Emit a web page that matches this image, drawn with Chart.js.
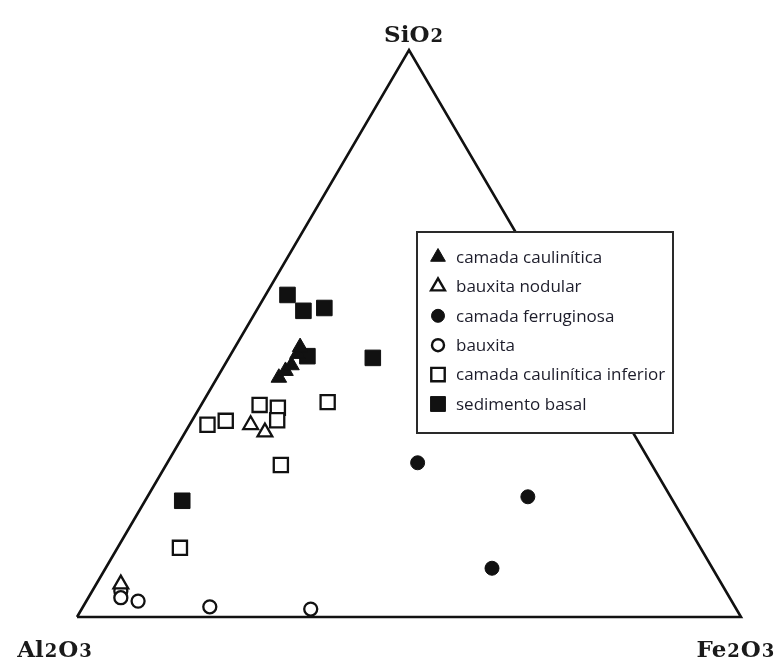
<!DOCTYPE html>
<html>
<head>
<meta charset="utf-8">
<title>Diagrama ternário SiO2 – Al2O3 – Fe2O3</title>
<script src="https://cdn.jsdelivr.net/npm/chart.js@4.4.1/dist/chart.umd.min.js"></script>
<style>
  html, body { margin: 0; padding: 0; background: #fff; }
  #wrap { width: 783px; height: 661px; position: relative; }
</style>
</head>
<body>
<div id="wrap"><canvas id="c" width="783" height="661"></canvas></div>
<script>
// Vertex labels of the ternary diagram
const vertexLabels = { top: 'SiO2', left: 'Al2O3', right: 'Fe2O3' };

// Sample compositions, wt% as [SiO2, Al2O3, Fe2O3]
const camadaCaulinitica = [
  [42.2, 48.5, 9.3],
  [43.4, 46.9, 9.7],
  [44.4, 45.5, 10.1],
  [46.4, 43.6, 10.0],
  [47.6, 42.6, 9.8]
];
const bauxitaNodular = [
  [33.9, 56.9, 9.2],
  [32.6, 55.4, 12.0],
  [5.8, 90.5, 3.7]
];
const camadaFerruginosa = [
  [27.2, 35.1, 37.7],
  [21.2, 21.5, 57.3],
  [8.6, 33.2, 58.2]
];
const bauxita = [
  [4.6, 91.1, 4.3],
  [3.4, 91.7, 4.9],
  [2.8, 89.4, 7.8],
  [1.8, 79.1, 19.1],
  [1.4, 64.1, 34.5]
];
const camadaCauliniticaInferior = [
  [33.9, 63.4, 2.7],
  [34.6, 60.3, 5.1],
  [37.4, 53.8, 8.8],
  [36.9, 51.3, 11.8],
  [34.7, 52.5, 12.8],
  [37.9, 43.3, 18.8],
  [26.8, 55.9, 17.3],
  [12.2, 78.4, 9.4]
];
const sedimentoBasal = [
  [56.8, 39.9, 3.3],
  [54.0, 38.9, 7.1],
  [54.5, 35.5, 10.0],
  [46.0, 42.3, 11.7],
  [45.7, 32.6, 21.7],
  [20.5, 73.9, 5.6]
];

// Legend order and marker styles
const seriesNames = [
  'camada caulinítica',
  'bauxita nodular',
  'camada ferruginosa',
  'bauxita',
  'camada caulinítica inferior',
  'sedimento basal'
];
const seriesData = [camadaCaulinitica, bauxitaNodular, camadaFerruginosa, bauxita, camadaCauliniticaInferior, sedimentoBasal];
const seriesStyle = [
  { shape: 'triangle', filled: true,  r: 9,   lr: 8.5 },
  { shape: 'triangle', filled: false, r: 8.5, lr: 8 },
  { shape: 'circle',   filled: true,  r: 7,   lr: 6.5 },
  { shape: 'circle',   filled: false, r: 6.5, lr: 6 },
  { shape: 'rect',     filled: false, r: 10,  lr: 9.5 },
  { shape: 'rect',     filled: true,  r: 11,  lr: 10.5 }
];

// Ternary -> cartesian: Al2O3 corner at (0,0), Fe2O3 at (1,0), SiO2 at (0.5,1)
function toXY(c) {
  const sum = c[0] + c[1] + c[2];
  const si = c[0] / sum, fe = c[2] / sum;
  return { x: fe + si / 2, y: si };
}

const INK = '#111';

const datasets = seriesData.map((arr, i) => {
  const st = seriesStyle[i];
  return {
    label: seriesNames[i],
    data: arr.map(toXY),
    showLine: false,
    pointStyle: st.shape,
    pointRadius: st.r,
    pointHoverRadius: st.r,
    backgroundColor: st.filled ? INK : '#fff',
    borderColor: INK,
    borderWidth: st.filled ? 1 : 2.3,
    clip: false,
    order: 1
  };
});

// Triangle frame
datasets.push({
  label: 'frame',
  data: [{ x: 0, y: 0 }, { x: 1, y: 0 }, { x: 0.5, y: 1 }, { x: 0, y: 0 }],
  showLine: true,
  pointRadius: 0,
  borderColor: INK,
  borderWidth: 2.6,
  borderJoinStyle: 'miter',
  fill: false,
  tension: 0,
  clip: false,
  order: 10
});

function drawMarker(ctx, shape, filled, x, y, r) {
  ctx.save();
  ctx.beginPath();
  if (shape === 'triangle') {
    const t = Math.PI * 2 / 3;
    ctx.moveTo(x, y - r);
    ctx.lineTo(x + Math.sin(t) * r, y - Math.cos(t) * r);
    ctx.lineTo(x + Math.sin(2 * t) * r, y - Math.cos(2 * t) * r);
    ctx.closePath();
  } else if (shape === 'circle') {
    ctx.arc(x, y, r, 0, Math.PI * 2);
  } else {
    const s = Math.SQRT1_2 * r;
    ctx.rect(x - s, y - s, 2 * s, 2 * s);
  }
  ctx.fillStyle = filled ? INK : '#fff';
  ctx.fill();
  ctx.lineWidth = filled ? 1 : 2.4;
  ctx.strokeStyle = INK;
  ctx.stroke();
  ctx.restore();
}

// Chemical formula with smaller, baseline-aligned digits
function drawFormula(ctx, text, cx, baseline, size) {
  const big = `bold ${size}px "DejaVu Serif", "Liberation Serif", serif`;
  const small = `bold ${Math.round(size * 0.78)}px "DejaVu Serif", "Liberation Serif", serif`;
  const parts = text.split(/(\d)/).filter(p => p.length);
  let total = 0;
  parts.forEach(p => { ctx.font = /\d/.test(p) ? small : big; total += ctx.measureText(p).width + 1; });
  let x = cx - total / 2;
  ctx.fillStyle = '#1a1a1a';
  ctx.textBaseline = 'alphabetic';
  ctx.textAlign = 'left';
  parts.forEach(p => {
    ctx.font = /\d/.test(p) ? small : big;
    ctx.fillText(p, x, baseline);
    x += ctx.measureText(p).width + 1;
  });
}

const ternaryDecor = {
  id: 'ternaryDecor',
  afterDraw(chart) {
    const ctx = chart.ctx;
    const xs = chart.scales.x, ys = chart.scales.y;
    const apex = { x: xs.getPixelForValue(0.5), y: ys.getPixelForValue(1) };
    const left = { x: xs.getPixelForValue(0), y: ys.getPixelForValue(0) };
    const right = { x: xs.getPixelForValue(1), y: ys.getPixelForValue(0) };

    ctx.save();
    drawFormula(ctx, vertexLabels.top, apex.x + 5, apex.y - 8, 23);
    drawFormula(ctx, vertexLabels.left, left.x - 22, left.y + 40, 23);
    drawFormula(ctx, vertexLabels.right, right.x - 5, right.y + 40, 23);

    // Legend box
    const bx = 417, by = 232, bw = 256, bh = 201;
    ctx.fillStyle = '#fff';
    ctx.fillRect(bx, by, bw, bh);
    ctx.lineWidth = 2;
    ctx.strokeStyle = '#2a2a2a';
    ctx.strokeRect(bx, by, bw, bh);

    const rowY0 = 257, rowStep = 29.4;
    ctx.font = '17px "Open Sans", "Noto Sans", sans-serif';
    ctx.textBaseline = 'middle';
    ctx.textAlign = 'left';
    seriesNames.forEach((name, i) => {
      const y = rowY0 + i * rowStep;
      const st = seriesStyle[i];
      drawMarker(ctx, st.shape, st.filled, 438, y, st.lr);
      ctx.fillStyle = '#1c1c2a';
      ctx.fillText(name, 456, y + 1);
    });
    ctx.restore();
  }
};

new Chart(document.getElementById('c'), {
  type: 'scatter',
  data: { datasets },
  options: {
    responsive: false,
    animation: false,
    events: [],
    layout: { padding: { left: 77, right: 42, top: 50, bottom: 44 } },
    scales: {
      x: { type: 'linear', min: 0, max: 1, display: false },
      y: { type: 'linear', min: 0, max: 1, display: false }
    },
    plugins: {
      legend: { display: false },
      tooltip: { enabled: false }
    }
  },
  plugins: [ternaryDecor]
});
</script>
</body>
</html>
